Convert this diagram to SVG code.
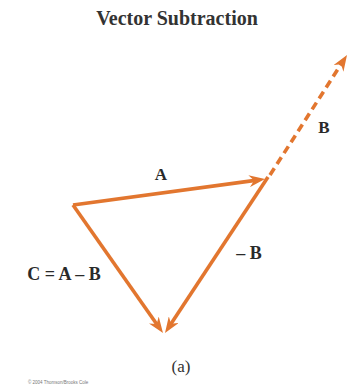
<svg xmlns="http://www.w3.org/2000/svg" width="348" height="386" viewBox="0 0 348 386">
<style>
.vec{stroke:#E2762F;stroke-width:3.6;fill:none;stroke-linecap:butt}
.dash{stroke-dasharray:8 5}
.lbl{font-family:"Liberation Serif","Times New Roman",serif;font-weight:bold;fill:#2a2a2a}
.title{font-family:"Liberation Serif","Times New Roman",serif;font-weight:bold;fill:#333;font-size:20px}
.cap{font-family:"Liberation Serif","Times New Roman",serif;fill:#333;font-size:17px}
.copy{font-family:"Liberation Sans",Arial,sans-serif;fill:#777;font-size:4.5px}
</style>
<defs>
<marker id="head" viewBox="0 0 16 12" refX="8" refY="6" markerWidth="16" markerHeight="12" markerUnits="userSpaceOnUse" orient="auto">
<path d="M0,0 L16,6 L0,12 L5,6 z" fill="#E2762F"/>
</marker>
</defs>
<rect width="348" height="386" fill="#fff"/>
<text class="title" x="177" y="25" text-anchor="middle">Vector Subtraction</text>
<g id="connectors">
<g id="vecA"><line class="vec" x1="73" y1="205" x2="257.1" y2="180.1" marker-end="url(#head)"/></g>
<g id="vecB"><line class="vec dash" x1="270" y1="175" x2="342.7" y2="61.7" marker-end="url(#head)"/></g>
<g id="vecNegB"><line class="vec" x1="268" y1="177" x2="169.4" y2="326.3" marker-end="url(#head)"/></g>
<g id="vecC"><line class="vec" x1="73" y1="205" x2="158.4" y2="326.5" marker-end="url(#head)"/></g>
</g>
<g id="labels">
<text class="lbl" x="161" y="180" font-size="17" text-anchor="middle">A</text>
<text class="lbl" x="324" y="133" font-size="17" text-anchor="middle">B</text>
<text class="lbl" x="249" y="259" font-size="18" text-anchor="middle">– B</text>
<text class="lbl" x="64" y="280" font-size="18" text-anchor="middle">C = A – B</text>
</g>
<text class="cap" x="181" y="372" text-anchor="middle">(a)</text>
<text class="copy" x="28" y="384">© 2004 Thomson/Brooks Cole</text>
</svg>
